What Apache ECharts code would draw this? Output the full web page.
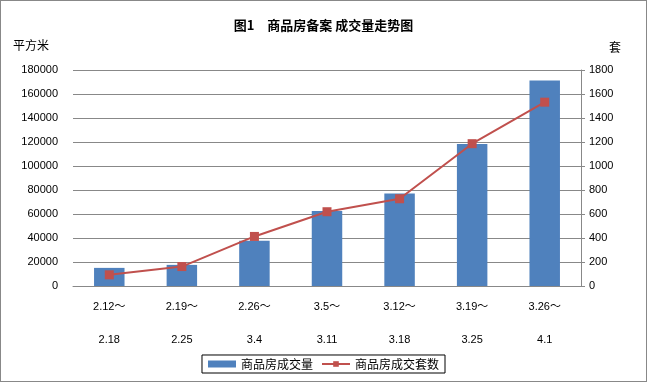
<!DOCTYPE html>
<html><head><meta charset="utf-8">
<script src="https://cdn.jsdelivr.net/npm/echarts@6/dist/echarts.min.js"></script>
<style>html,body{margin:0;padding:0;background:#fff}#c{width:647px;height:382px;box-sizing:border-box;border:1px solid #888}</style>
</head><body><div id="c"></div>
<script>
const categories = ['2.12～\n\n2.18','2.19～\n\n2.25','2.26～\n\n3.4','3.5～\n\n3.11','3.12～\n\n3.18','3.19～\n\n3.25','3.26～\n\n4.1'];
const areaValues = [15100, 17600, 37700, 62400, 77000, 118300, 171200];
const unitValues = [93, 162, 413, 619, 727, 1186, 1532];
const leftTicks = {min:0, max:180000, interval:20000};
const rightTicks = {min:0, max:1800, interval:200};
const font = '"Liberation Sans","Noto Sans CJK SC",sans-serif';
const cjk = '"Noto Sans CJK SC",sans-serif';
const chart = echarts.init(document.getElementById('c'));
chart.setOption({
  animation:false,
  title:{text:'图1　商品房备案 成交量走势图',left:'center',top:13,textStyle:{fontFamily:cjk,fontSize:13,fontWeight:'bold',color:'#000'}},
  grid:{left:72,right:65,top:69,bottom:95},
  graphic:[
    {type:'text',left:12,top:38,style:{text:'平方米',font:'12px '+cjk,fill:'#000'}},
    {type:'text',left:608,top:40,style:{text:'套',font:'12px '+cjk,fill:'#000'}}
  ],
  legend:{bottom:8,left:'center',itemWidth:28,itemHeight:7,itemGap:8,borderColor:'#000',borderWidth:1,padding:[3,6,3,6],
    textStyle:{fontFamily:cjk,fontSize:12,color:'#000'},
    data:[{name:'商品房成交量',icon:'rect'},{name:'商品房成交套数'}]},
  xAxis:{type:'category',data:categories,
    axisLine:{lineStyle:{color:'#888'}},axisTick:{show:false},
    axisLabel:{color:'#000',fontFamily:font,fontSize:11,lineHeight:16.5,margin:13}},
  yAxis:[
    {type:'value',...leftTicks,axisLine:{show:false},axisTick:{show:true,length:5,inside:true,lineStyle:{color:'#888'}},
     splitLine:{lineStyle:{color:'#888'}},axisLabel:{color:'#000',fontFamily:font,fontSize:11,margin:15,formatter:v=>String(v)}},
    {type:'value',...rightTicks,axisLine:{show:true,lineStyle:{color:'#888'}},axisTick:{show:true,length:4,lineStyle:{color:'#888'}},
     splitLine:{show:false},axisLabel:{color:'#000',fontFamily:font,fontSize:11,margin:8,formatter:v=>String(v)}}
  ],
  series:[
    {name:'商品房成交量',type:'bar',data:areaValues,barWidth:'42%',itemStyle:{color:'#4F81BD'}},
    {name:'商品房成交套数',type:'line',yAxisIndex:1,data:unitValues,symbol:'rect',symbolSize:9,
     lineStyle:{color:'#C0504D',width:2},itemStyle:{color:'#C0504D'}}
  ]
});
</script></body></html>
